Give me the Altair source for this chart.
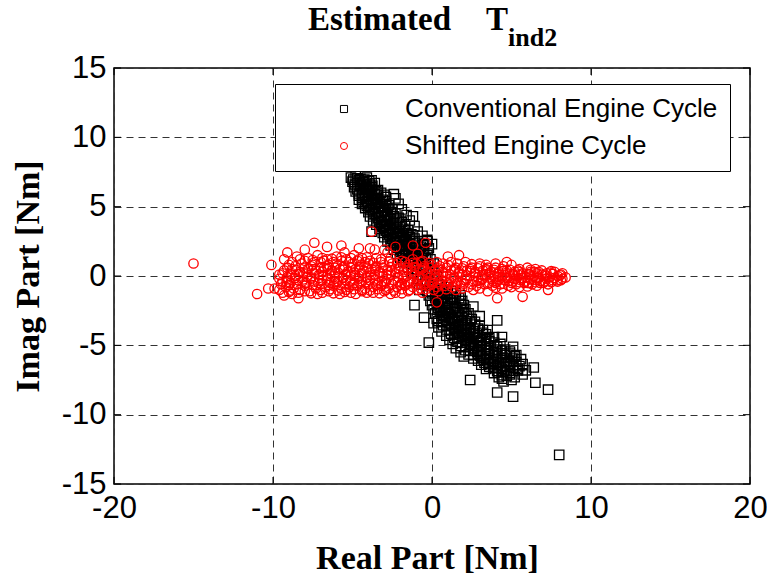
import altair as alt
import pandas as pd

# ---- data ----
series_names = ["Conventional Engine Cycle", "Shifted Engine Cycle"]
x_ticks = [-20, -10, 0, 10, 20]
y_ticks = [-15, -10, -5, 0, 5, 10, 15]
title_parts = ["Estimated", "T", "ind2"]

conv_pts = [
    (-5.1, 7.1), (-4.8, 7.2), (-4.5, 7.0), (-4.1, 7.1), (-3.8, 6.9),
    (-5.0, 6.8), (-4.7, 6.7), (-4.3, 6.8), (-3.9, 6.6), (-3.6, 6.7),
    (-4.9, 6.4), (-4.5, 6.5), (-4.2, 6.3), (-3.8, 6.4), (-3.4, 6.2),
    (-4.8, 6.1), (-4.4, 6.0), (-4.0, 6.2), (-3.6, 5.9), (-3.2, 6.0),
    (-4.6, 5.8), (-4.2, 5.7), (-3.8, 5.8), (-3.4, 5.6), (-2.4, 5.9), (-2.9, 5.7),
    (-4.6, 5.5), (-4.1, 5.4), (-3.7, 5.5), (-3.3, 5.3), (-2.9, 5.4),
    (-4.4, 5.2), (-4.0, 5.1), (-3.5, 5.2), (-3.1, 5.0), (-2.7, 5.1),
    (-4.2, 4.9), (-3.8, 4.8), (-3.4, 4.9), (-3.0, 4.7), (-2.5, 4.8),
    (-4.0, 4.6), (-3.6, 4.5), (-3.2, 4.6), (-2.8, 4.4), (-2.3, 4.5), (-1.2, 4.3),
    (-3.9, 4.3), (-3.4, 4.2), (-3.0, 4.3), (-2.6, 4.1), (-2.1, 4.2),
    (-3.7, 4.0), (-3.2, 3.9), (-2.8, 4.0), (-2.4, 3.8), (-1.9, 3.9),
    (-3.5, 3.7), (-3.1, 3.6), (-2.6, 3.7), (-2.2, 3.5), (-1.7, 3.6),
    (-3.3, 3.4), (-2.9, 3.3), (-2.4, 3.4), (-2.0, 3.2), (-1.5, 3.3),
    (-3.8, 3.2), (-3.1, 3.1), (-2.7, 3.0), (-2.2, 3.1), (-1.8, 2.9), (-1.3, 3.0),
    (-3.0, 2.8), (-2.5, 2.7), (-2.0, 2.8), (-1.6, 2.6), (-1.1, 2.7),
    (-2.8, 2.5), (-2.3, 2.4), (-1.8, 2.5), (-1.4, 2.3), (-0.9, 2.4), (-0.3, 2.5),
    (-2.6, 2.2), (-2.1, 2.1), (-1.6, 2.2), (-1.2, 2.0), (-0.7, 2.1), (-0.2, 2.0),
    (-2.4, 1.9), (-1.9, 1.8), (-1.5, 1.9), (-1.0, 1.7), (-0.5, 1.8),
    (-2.2, 1.6), (-1.7, 1.5), (-1.3, 1.6), (-0.8, 1.4), (-0.3, 1.5),
    (-2.0, 1.3), (-1.5, 1.2), (-1.1, 1.3), (-0.6, 1.1), (-0.1, 1.2),
    (-1.8, 1.0), (-1.3, 0.9), (-0.9, 1.0), (-0.4, 0.8), (0.1, 0.9),
    (-1.5, 0.6), (-1.0, 0.5), (-0.5, 0.6), (0.0, 0.4),
    (-1.2, 0.2), (-0.7, 0.1), (-0.2, 0.2), (0.3, 0.0),
    (-0.9, -0.2), (-0.4, -0.3), (0.1, -0.2), (0.6, -0.4),
    (-0.6, -0.6), (-0.1, -0.7), (0.4, -0.6), (0.9, -0.8),
    (-0.8, -1.0), (-0.3, -1.1), (0.2, -0.9), (0.7, -1.0), (1.2, -1.1),
    (-0.2, -1.4), (0.3, -1.5), (0.8, -1.3), (1.3, -1.5), (1.8, -1.4),
    (-0.1, -1.8), (0.4, -1.7), (0.9, -1.9), (1.4, -1.7), (1.9, -1.8),
    (-1.1, -2.1), (0.0, -2.1), (0.5, -2.2), (1.0, -2.0), (1.5, -2.2), (2.0, -2.1),
    (0.1, -2.4), (0.6, -2.5), (1.1, -2.3), (1.6, -2.5), (2.1, -2.4),
    (0.2, -2.7), (0.7, -2.8), (1.2, -2.6), (1.7, -2.8), (2.3, -2.7),
    (-0.5, -3.0), (0.3, -3.1), (0.8, -2.9), (1.3, -3.1), (1.9, -3.0), (2.5, -3.1),
    (0.1, -3.4), (0.6, -3.3), (1.1, -3.4), (1.6, -3.2), (2.1, -3.4), (2.7, -3.3), (4.1, -3.2),
    (0.4, -3.7), (0.9, -3.6), (1.4, -3.7), (1.9, -3.5), (2.4, -3.7), (3.0, -3.6),
    (0.6, -4.0), (1.1, -3.9), (1.6, -4.0), (2.1, -3.8), (2.6, -4.0), (3.2, -3.9),
    (0.9, -4.3), (1.4, -4.2), (1.9, -4.3), (2.4, -4.1), (2.9, -4.3), (3.4, -4.2),
    (1.1, -4.6), (1.6, -4.5), (2.1, -4.6), (2.6, -4.4), (3.1, -4.6), (3.6, -4.5), (4.4, -4.4),
    (-0.2, -4.8), (1.3, -4.9), (1.9, -4.8), (2.4, -4.9), (2.9, -4.7), (3.4, -4.9), (3.9, -4.8),
    (1.5, -5.2), (2.1, -5.1), (2.6, -5.2), (3.1, -5.0), (3.6, -5.2), (4.1, -5.1), (5.1, -5.1),
    (1.8, -5.5), (2.4, -5.4), (2.9, -5.5), (3.4, -5.3), (3.9, -5.5), (4.4, -5.4),
    (2.0, -5.8), (2.6, -5.7), (3.1, -5.8), (3.6, -5.6), (4.1, -5.8), (4.6, -5.7), (5.3, -5.7),
    (2.9, -6.1), (3.4, -6.0), (3.9, -6.1), (4.4, -5.9), (4.9, -6.1), (5.6, -6.0),
    (3.1, -6.4), (3.6, -6.3), (4.1, -6.4), (4.6, -6.2), (5.1, -6.4),
    (3.4, -6.7), (3.9, -6.6), (4.4, -6.7), (4.9, -6.5), (5.4, -6.7), (6.4, -6.6),
    (3.9, -7.0), (4.4, -6.9), (4.9, -7.0), (5.4, -6.8),
    (4.2, -7.3), (4.7, -7.2), (5.2, -7.3), (6.5, -7.7),
    (2.4, -7.5), (4.5, -7.6), (5.0, -7.5),
    (7.3, -8.2), (4.1, -8.4), (5.1, -8.7), (8.0, -12.9),
    # second pass, between the rows above
    (-4.95, 6.95), (-4.6, 6.9), (-4.25, 6.95), (-3.95, 6.85),
    (-4.85, 6.6), (-4.5, 6.55), (-4.1, 6.6), (-3.75, 6.5),
    (-4.7, 6.25), (-4.3, 6.2), (-3.9, 6.3), (-3.5, 6.1),
    (-4.6, 5.95), (-4.2, 5.85), (-3.8, 6.0), (-3.4, 5.8), (-3.0, 5.85),
    (-4.4, 5.65), (-4.0, 5.55), (-3.6, 5.65), (-3.1, 5.5),
    (-4.3, 5.35), (-3.8, 5.25), (-3.4, 5.35), (-2.9, 5.2),
    (-4.1, 5.05), (-3.6, 4.95), (-3.2, 5.05), (-2.8, 4.9),
    (-3.9, 4.75), (-3.4, 4.65), (-3.0, 4.75), (-2.6, 4.6),
    (-3.7, 4.45), (-3.2, 4.35), (-2.8, 4.45), (-2.4, 4.3),
    (-3.5, 4.15), (-3.0, 4.05), (-2.6, 4.15), (-2.2, 4.0),
    (-3.3, 3.85), (-2.9, 3.75), (-2.4, 3.85), (-2.0, 3.7),
    (-3.1, 3.55), (-2.7, 3.45), (-2.2, 3.55), (-1.8, 3.4),
    (-2.9, 3.25), (-2.5, 3.15), (-2.0, 3.25), (-1.6, 3.1),
    (-2.8, 2.95), (-2.3, 2.85), (-1.8, 2.95), (-1.4, 2.8),
    (-2.6, 2.65), (-2.1, 2.55), (-1.6, 2.65), (-1.2, 2.5),
    (-2.4, 2.35), (-1.9, 2.25), (-1.4, 2.35), (-1.0, 2.2), (-0.5, 2.3),
    (-2.2, 2.05), (-1.7, 1.95), (-1.2, 2.05), (-0.8, 1.9),
    (-2.0, 1.75), (-1.5, 1.65), (-1.1, 1.75), (-0.6, 1.6),
    (-1.8, 1.45), (-1.3, 1.35), (-0.9, 1.45), (-0.4, 1.3),
    (0.0, -1.25), (0.5, -1.2), (1.0, -1.3), (1.5, -1.25),
    (0.2, -1.6), (0.7, -1.55), (1.2, -1.65), (1.7, -1.6),
    (0.3, -1.95), (0.8, -2.05), (1.3, -1.95), (1.8, -2.0),
    (0.4, -2.3), (0.9, -2.35), (1.4, -2.3), (1.9, -2.3),
    (0.5, -2.6), (1.0, -2.65), (1.5, -2.6), (2.0, -2.6),
    (0.6, -2.9), (1.1, -3.0), (1.6, -2.95), (2.2, -2.9),
    (0.4, -3.25), (0.9, -3.2), (1.4, -3.25), (1.9, -3.2), (2.4, -3.25),
    (0.7, -3.55), (1.2, -3.5), (1.7, -3.55), (2.2, -3.5), (2.7, -3.5),
    (0.9, -3.85), (1.4, -3.8), (1.9, -3.85), (2.4, -3.85), (2.9, -3.8),
    (1.2, -4.15), (1.7, -4.1), (2.2, -4.15), (2.7, -4.15), (3.2, -4.1),
    (1.4, -4.45), (1.9, -4.4), (2.4, -4.45), (2.9, -4.45), (3.4, -4.4),
    (1.6, -4.75), (2.1, -4.7), (2.6, -4.75), (3.1, -4.8), (3.6, -4.7),
    (1.8, -5.05), (2.4, -5.0), (2.9, -5.05), (3.4, -5.1), (3.9, -5.0),
    (2.1, -5.35), (2.6, -5.3), (3.1, -5.35), (3.6, -5.4), (4.1, -5.3),
    (2.3, -5.65), (2.9, -5.6), (3.4, -5.65), (3.9, -5.7), (4.4, -5.6), (4.9, -5.6),
    (2.6, -5.95), (3.1, -5.9), (3.6, -5.95), (4.1, -6.0), (4.6, -5.9), (5.1, -5.95),
    (3.3, -6.25), (3.8, -6.2), (4.3, -6.25), (4.8, -6.3), (5.3, -6.2), (5.7, -6.35),
    (3.6, -6.55), (4.1, -6.5), (4.6, -6.55), (5.1, -6.6),
    (4.1, -6.85), (4.6, -6.8), (5.1, -6.85), (5.9, -6.8),
    (4.4, -7.15), (4.9, -7.1),
    # third pass, band centre and right edge of the upper arm
    (-4.7, 7.05), (-4.35, 6.75), (-4.15, 6.45), (-4.0, 6.1), (-3.95, 5.75),
    (-3.85, 5.45), (-3.7, 5.15), (-3.55, 4.85), (-3.35, 4.55), (-3.2, 4.25),
    (-3.0, 3.95), (-2.85, 3.65), (-2.65, 3.35), (-2.45, 3.05), (-2.25, 2.75),
    (-2.05, 2.45), (-1.85, 2.15), (-1.65, 1.85), (-1.45, 1.55), (-1.25, 1.25),
    (-1.05, 0.95), (-0.85, 0.75),
    (-2.3, 5.6), (-2.1, 5.2), (-1.9, 4.8), (-1.6, 4.4), (-1.4, 4.0), (-1.1, 3.6),
    (-0.9, 3.2), (-0.6, 2.9), (-0.3, 2.6), (0.0, 2.3),
    # third pass, lower arm
    (0.35, -1.35), (0.55, -1.65), (0.65, -2.0), (0.85, -2.45), (1.05, -2.75),
    (1.25, -3.05), (1.45, -3.35), (1.65, -3.65), (1.85, -3.95), (2.05, -4.25),
    (2.25, -4.55), (2.45, -4.85), (2.65, -5.15), (2.85, -5.45), (3.05, -5.75),
    (3.25, -6.05), (3.55, -6.35), (3.85, -6.65), (4.15, -6.95), (4.4, -7.4),
    (2.6, -2.2), (3.0, -2.9), (3.5, -3.9), (3.9, -4.4), (4.3, -4.9), (4.6, -5.3),
    (4.9, -5.45), (5.2, -5.8), (5.5, -6.5), (5.7, -7.1),
]

shift_pts = [
    # core row near 0
    (-9.6, 0.1), (-9.1, -0.1), (-8.6, 0.0), (-8.1, 0.2), (-7.6, -0.1), (-7.1, 0.1),
    (-6.6, 0.0), (-6.1, 0.2), (-5.6, -0.1), (-5.1, 0.1), (-4.6, 0.0), (-4.1, -0.1),
    (-3.6, 0.1), (-3.1, 0.0), (-2.6, 0.1), (-2.1, -0.1), (-1.6, 0.0), (-1.1, 0.1),
    (-0.6, 0.0), (-0.1, -0.1), (0.4, 0.1), (0.9, 0.0), (1.4, -0.1), (1.9, 0.1),
    (2.4, 0.0), (2.9, -0.1), (3.4, 0.1), (3.9, 0.0), (4.4, -0.1), (4.9, 0.0),
    (5.4, 0.1), (5.9, -0.1), (6.4, 0.0), (6.9, 0.1), (7.4, -0.1), (7.9, 0.0), (8.4, -0.1),
    # row near +0.4
    (-9.3, 0.4), (-8.8, 0.5), (-8.3, 0.3), (-7.8, 0.5), (-7.3, 0.4), (-6.8, 0.6),
    (-6.3, 0.4), (-5.8, 0.5), (-5.3, 0.3), (-4.8, 0.5), (-4.3, 0.4), (-3.8, 0.5),
    (-3.3, 0.3), (-2.8, 0.4), (-2.3, 0.5), (-1.8, 0.3), (-1.3, 0.4), (-0.8, 0.5),
    (-0.3, 0.3), (0.2, 0.4), (0.7, 0.3), (1.2, 0.4), (1.7, 0.3), (2.2, 0.4),
    (2.7, 0.3), (3.2, 0.4), (3.7, 0.3), (4.2, 0.3), (4.7, 0.4), (5.2, 0.3),
    (5.7, 0.2), (6.2, 0.3), (6.7, 0.3), (7.2, 0.2), (7.7, 0.3), (8.2, 0.2),
    # row near -0.4
    (-9.4, -0.4), (-8.9, -0.5), (-8.4, -0.3), (-7.9, -0.5), (-7.4, -0.4), (-6.9, -0.3),
    (-6.4, -0.5), (-5.9, -0.4), (-5.4, -0.3), (-4.9, -0.5), (-4.4, -0.4), (-3.9, -0.3),
    (-3.4, -0.5), (-2.9, -0.4), (-2.4, -0.3), (-1.9, -0.5), (-1.4, -0.4), (-0.9, -0.3),
    (-0.4, -0.5), (0.1, -0.4), (0.6, -0.3), (1.1, -0.4), (1.6, -0.5), (2.1, -0.3),
    (2.6, -0.4), (3.1, -0.3), (3.6, -0.5), (4.1, -0.4), (4.6, -0.3), (5.1, -0.4),
    (5.6, -0.3), (6.1, -0.5), (6.6, -0.3), (7.1, -0.4), (7.6, -0.3), (8.1, -0.3),
    # rows near +0.2 / -0.2
    (-3.3, 0.2), (-2.8, -0.2), (-2.3, 0.2), (-1.8, -0.2), (-1.3, 0.2), (-0.8, -0.2),
    (-0.3, 0.2), (0.2, -0.2), (0.7, 0.2), (1.2, -0.2), (1.7, 0.2), (2.2, -0.2),
    (2.7, 0.2), (3.2, -0.2),
    (-9.4, 0.2), (-8.9, 0.25), (-8.4, 0.15), (-7.9, 0.25), (-7.4, 0.2), (-6.9, 0.3),
    (-6.4, 0.2), (-5.9, 0.25), (-5.4, 0.15), (-4.9, 0.25), (-4.4, 0.2), (-3.9, 0.25),
    (3.6, 0.2), (4.1, 0.15), (4.6, 0.2), (5.1, 0.15), (5.6, 0.1), (6.1, 0.15),
    (6.6, 0.2), (7.1, 0.1), (7.6, 0.15), (8.1, 0.1),
    (-9.6, -0.2), (-9.1, -0.25), (-8.6, -0.15), (-8.1, -0.25), (-7.6, -0.2), (-7.1, -0.15),
    (-6.6, -0.25), (-6.1, -0.2), (-5.6, -0.15), (-5.1, -0.25), (-4.6, -0.2), (-4.1, -0.15),
    (-3.6, -0.25), (3.7, -0.2), (4.2, -0.25), (4.7, -0.15), (5.2, -0.2), (5.7, -0.15),
    (6.2, -0.25), (6.7, -0.15), (7.2, -0.2), (7.7, -0.15), (8.2, -0.2),
    # rows near +0.6 / -0.6
    (-9.1, 0.6), (-8.6, 0.7), (-8.0, 0.6), (-7.6, 0.7), (-7.0, 0.6), (-6.6, 0.7),
    (-6.1, 0.6), (-5.6, 0.65), (-5.1, 0.6), (-4.6, 0.65), (-4.1, 0.6), (-3.6, 0.55),
    (-3.1, 0.6), (-2.6, 0.65), (-2.1, 0.55), (-1.6, 0.6), (-1.1, 0.65), (-0.6, 0.55),
    (-0.1, 0.6), (0.4, 0.55), (0.9, 0.6), (1.4, 0.5), (1.9, 0.55), (2.4, 0.5),
    (2.9, 0.55), (3.4, 0.5), (3.9, 0.45), (4.4, 0.5), (4.9, 0.45), (5.4, 0.4),
    (6.2, 0.45), (6.9, 0.4), (7.5, 0.35),
    (-9.5, -0.6), (-9.0, -0.65), (-8.5, -0.6), (-8.0, -0.55), (-7.5, -0.65), (-7.0, -0.6),
    (-6.5, -0.65), (-6.0, -0.55), (-5.5, -0.6), (-5.0, -0.65), (-4.5, -0.55), (-4.0, -0.6),
    (-3.5, -0.65), (-3.0, -0.55), (-2.5, -0.6), (-2.0, -0.65), (-1.5, -0.55), (-1.0, -0.6),
    (-0.5, -0.65), (0.0, -0.55), (0.5, -0.6), (1.0, -0.55), (1.5, -0.6), (2.0, -0.55),
    (2.5, -0.6), (3.0, -0.5), (3.5, -0.55), (4.0, -0.5), (4.5, -0.55), (5.0, -0.5),
    (5.5, -0.45), (6.0, -0.5), (6.5, -0.45), (7.0, -0.5), (7.5, -0.45), (7.9, -0.4),
    # row near +0.8
    (-9.0, 0.8), (-8.2, 0.9), (-7.5, 0.8), (-7.0, 1.0), (-6.5, 0.8), (-6.0, 0.9),
    (-5.5, 0.7), (-5.0, 0.9), (-4.5, 0.8), (-4.0, 0.9), (-3.5, 0.7), (-3.0, 0.8),
    (-2.5, 0.9), (-2.0, 0.7), (-1.5, 0.8), (-1.0, 0.9), (-0.5, 0.7), (0.0, 0.8),
    (0.5, 0.7), (1.0, 0.8), (1.5, 0.6), (2.0, 0.7), (2.5, 0.6), (3.0, 0.7),
    (3.5, 0.6), (4.0, 0.6), (4.5, 0.7), (5.5, 0.5), (6.0, 0.6), (6.5, 0.5),
    # row near -0.8
    (-9.2, -0.8), (-8.7, -0.9), (-8.0, -0.7), (-7.3, -0.9), (-6.7, -0.8), (-6.2, -0.7),
    (-5.7, -0.9), (-5.2, -0.8), (-4.7, -0.7), (-4.2, -0.9), (-3.7, -0.8), (-3.2, -0.7),
    (-2.7, -0.9), (-2.2, -0.8), (-1.7, -0.7), (-1.2, -0.8), (-0.7, -0.9), (-0.2, -0.7),
    (0.3, -0.8), (0.8, -0.7), (1.3, -0.8), (1.8, -0.7), (2.3, -0.8), (2.8, -0.7),
    (3.3, -0.6), (3.8, -0.7), (4.3, -0.6), (4.8, -0.7), (5.3, -0.6), (5.8, -0.5),
    (6.3, -0.6), (6.8, -0.5), (7.3, -0.6),
    # rows near +1.0 / -1.0
    (-8.8, 1.0), (-8.0, 1.1), (-7.4, 1.0), (-6.8, 1.1), (-6.2, 1.0), (-5.7, 1.1),
    (-5.2, 1.0), (-4.7, 1.1), (-4.2, 1.0), (-3.7, 0.95), (-3.2, 1.0), (-2.7, 1.05),
    (-2.2, 0.95), (-1.7, 1.0), (-1.2, 0.95), (-0.7, 1.0), (-0.2, 0.95), (0.7, 0.9),
    (1.6, 0.9), (2.5, 0.85), (3.4, 0.8),
    (-9.6, -1.0), (-8.9, -1.05), (-8.3, -1.0), (-7.7, -1.1), (-7.0, -1.0), (-6.4, -0.95),
    (-5.9, -1.05), (-5.4, -1.0), (-4.9, -0.95), (-4.4, -1.0), (-3.9, -1.05), (-3.4, -0.95),
    (-2.9, -1.0), (-2.4, -1.05), (-1.9, -0.95), (-1.4, -1.0), (-0.9, -1.0), (-0.4, -0.95),
    (0.1, -1.0), (0.9, -0.95), (1.9, -0.9), (3.0, -0.9), (4.0, -0.85), (5.0, -0.8),
    (6.0, -0.75),
    # third pass in the core
    (-8.85, 0.1), (-7.85, -0.05), (-6.85, 0.05), (-5.85, -0.05), (-4.85, 0.1),
    (-3.85, 0.05), (-2.85, 0.1), (-1.85, 0.05), (-0.85, -0.05), (0.15, 0.05),
    (1.15, 0.1), (2.15, 0.05), (3.15, 0.05), (4.15, -0.05), (5.15, 0.05),
    (6.15, 0.1), (7.15, 0.0), (8.05, 0.05),
    (-8.55, 0.45), (-7.55, 0.4), (-6.55, 0.5), (-5.55, 0.45), (-4.55, 0.4),
    (-3.55, 0.45), (-2.55, 0.4), (-1.55, 0.45), (-0.55, 0.4), (0.45, 0.45),
    (1.45, 0.4), (2.45, 0.35), (3.45, 0.4), (4.45, 0.35), (5.45, 0.3),
    (6.45, 0.3), (7.45, 0.25),
    (-9.15, -0.45), (-8.15, -0.4), (-7.15, -0.5), (-6.15, -0.45), (-5.15, -0.4),
    (-4.15, -0.45), (-3.15, -0.4), (-2.15, -0.45), (-1.15, -0.4), (-0.15, -0.45),
    (0.85, -0.4), (1.85, -0.45), (2.85, -0.35), (3.85, -0.4), (4.85, -0.35),
    (5.85, -0.4), (6.85, -0.35), (7.85, -0.3),
    (-8.3, 1.2), (-7.5, 1.15), (-6.9, 1.3), (-6.3, 1.25), (-5.7, 1.35), (-5.1, 1.3),
    (-4.6, 1.2), (-4.1, 1.35), (-3.5, 1.3),
    (-9.0, -1.15), (-8.4, -1.2), (-7.6, -1.25), (-6.9, -1.2), (-6.2, -1.25),
    (-5.5, -1.15), (-4.8, -1.3), (-4.1, -1.2), (-3.3, -1.25), (-2.6, -1.3), (-1.9, -1.25),
    # upper fringe
    (-9.3, 1.2), (-8.5, 1.4), (-7.8, 1.3), (-7.2, 1.5), (-6.6, 1.2), (-6.0, 1.4),
    (-5.4, 1.2), (-4.9, 1.5), (-4.4, 1.3), (-3.9, 1.1), (-3.2, 1.2), (-2.6, 1.3),
    (-1.9, 1.1), (-1.2, 1.2), (-0.6, 1.1), (0.3, 1.0), (1.2, 1.0), (2.1, 1.0),
    (3.0, 0.9), (4.0, 0.9), (5.0, 0.8),
    # upper outliers
    (-15.0, 0.9), (-10.1, 0.8), (-9.1, 1.7), (-7.4, 2.4), (-8.0, 1.9), (-6.6, 2.1),
    (-5.7, 2.2), (-5.5, 1.7), (-4.6, 2.0), (-3.9, 2.0), (-3.6, 1.9), (-3.0, 1.9),
    (-3.8, 3.2), (-2.3, 2.1), (-1.2, 2.2), (-0.4, 2.4), (-2.8, 1.7), (-0.9, 1.6),
    (1.0, 1.4), (1.7, 1.5), (4.7, 1.0),
    # lower fringe
    (-9.4, -1.2), (-8.8, -1.3), (-8.0, -1.1), (-7.2, -1.3), (-6.5, -1.1), (-5.8, -1.3),
    (-5.1, -1.2), (-4.4, -1.1), (-3.7, -1.2), (-3.0, -1.1), (-2.3, -1.2), (-1.5, -1.1),
    (-0.6, -1.2), (0.4, -1.1), (1.5, -1.0), (2.6, -1.0), (3.5, -1.1), (4.4, -0.9),
    (5.5, -0.8), (6.6, -0.7),
    # lower outliers
    (-11.0, -1.3), (-10.3, -0.9), (-9.9, -0.9), (-9.3, -1.4), (-8.4, -1.6),
    (0.3, -1.9), (4.1, -1.6), (5.7, -1.5), (7.3, -1.0),
]

# ---- table built from the lists ----
rows = [{"real": x, "imag": y, "series": series_names[0]} for x, y in conv_pts]
rows += [{"real": x, "imag": y, "series": series_names[1]} for x, y in shift_pts]
df = pd.DataFrame(rows)
xt = pd.DataFrame({"real": x_ticks})
yt = pd.DataFrame({"imag": y_ticks})

W, H = 636, 416
SERIF = "Liberation Serif"
SANS = "Liberation Sans"
plain_label = "'' + datum.value"

x_scale = alt.Scale(domain=[-20, 20], nice=False, zero=False)
y_scale = alt.Scale(domain=[-15, 15], nice=False, zero=False)
x_axis = alt.Axis(values=x_ticks, title="Real Part [Nm]", titleX=313, titleY=84,
                  titleBaseline="alphabetic", labelPadding=9, labelExpr=plain_label,
                  labelFlush=False)
y_axis = alt.Axis(values=y_ticks, title="Imag Part [Nm]", titleX=-86, titleY=H / 2,
                  titleBaseline="middle", labelPadding=8, labelExpr=plain_label,
                  labelFlush=False)

points = alt.Chart(df).mark_point(filled=False, size=88, strokeWidth=1.3, opacity=1).encode(
    x=alt.X("real:Q", scale=x_scale, axis=x_axis),
    y=alt.Y("imag:Q", scale=y_scale, axis=y_axis),
    color=alt.Color("series:N", scale=alt.Scale(domain=series_names, range=["black", "red"]),
                    legend=alt.Legend(title=None)),
    shape=alt.Shape("series:N", scale=alt.Scale(domain=series_names, range=["square", "circle"]),
                    legend=alt.Legend(title=None)),
)

tick_style = dict(color="black", strokeWidth=1)
xb = alt.Chart(xt).mark_rule(**tick_style).encode(
    x=alt.X("real:Q", scale=x_scale, axis=x_axis), y=alt.value(H), y2=alt.value(H - 7))
xtop = alt.Chart(xt).mark_rule(**tick_style).encode(
    x=alt.X("real:Q", scale=x_scale, axis=x_axis), y=alt.value(0), y2=alt.value(7))
yl = alt.Chart(yt).mark_rule(**tick_style).encode(
    y=alt.Y("imag:Q", scale=y_scale, axis=y_axis), x=alt.value(0), x2=alt.value(7))
yr = alt.Chart(yt).mark_rule(**tick_style).encode(
    y=alt.Y("imag:Q", scale=y_scale, axis=y_axis), x=alt.value(W - 7), x2=alt.value(W))

tdf = pd.DataFrame({"t": title_parts})
t_main = alt.Chart(tdf).transform_filter(alt.datum.t == title_parts[0]).mark_text(
    align="left", baseline="alphabetic", font=SERIF, fontWeight="bold", fontSize=33, color="black"
).encode(text="t:N", x=alt.value(194), y=alt.value(-38))
t_T = alt.Chart(tdf).transform_filter(alt.datum.t == title_parts[1]).mark_text(
    align="left", baseline="alphabetic", font=SERIF, fontWeight="bold", fontSize=33, color="black"
).encode(text="t:N", x=alt.value(372), y=alt.value(-38))
t_sub = alt.Chart(tdf).transform_filter(alt.datum.t == title_parts[2]).mark_text(
    align="left", baseline="alphabetic", font=SERIF, fontWeight="bold", fontSize=26, color="black"
).encode(text="t:N", x=alt.value(394), y=alt.value(-22))

chart = alt.layer(points, xb, xtop, yl, yr, t_main, t_T, t_sub).properties(
    width=W, height=H,
    autosize=alt.AutoSizeParams(type="none"),
    padding={"left": 114, "top": 68, "right": 17, "bottom": 95},
    background="white",
).configure_view(
    stroke="black", strokeWidth=1.5
).configure_axis(
    grid=True, gridDash=[7, 5], gridColor="#333333", gridWidth=1, gridOpacity=1,
    ticks=False, domain=False,
    labelFont=SANS, labelFontSize=31, labelColor="black",
    titleFont=SERIF, titleFontWeight="bold", titleFontSize=34, titleColor="black",
).configure_legend(
    orient="none", legendX=161, legendY=16, padding=12,
    fillColor="white", strokeColor="black", strokeWidth=1,
    symbolSize=50, symbolStrokeWidth=1, symbolOffset=44, labelOffset=48,
    labelFont=SANS, labelFontSize=26, labelColor="black", rowPadding=11,
    labelLimit=0,
)

chart.save("out.html", embed_options={"renderer": "svg", "actions": False})
